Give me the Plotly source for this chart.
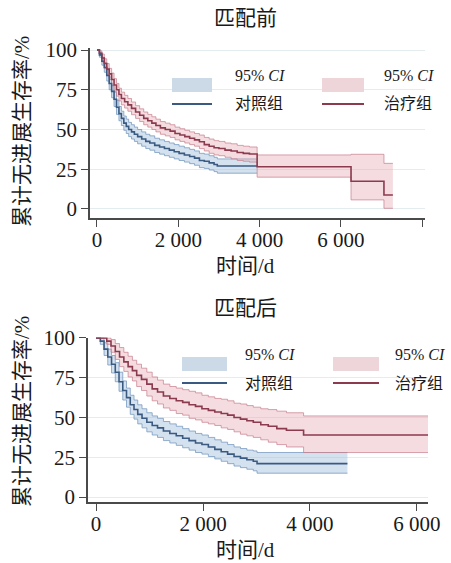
import plotly.graph_objects as go

# ---------------- data: before matching (匹配前) ----------------
pre_ctrl_t = [0, 60, 120, 180, 240, 300, 360, 420, 480, 540,
              600, 660, 720, 780, 850, 920, 1000, 1100, 1200, 1300,
              1420, 1540, 1660, 1780, 1900, 2020, 2150, 2280, 2400, 2520,
              2640, 2760, 2880, 2960, 3940]
pre_ctrl_s = [100, 97, 93, 89, 84, 79, 74, 69, 64, 60,
              57, 54, 52, 50, 48.5, 47, 45.5, 44, 42.5, 41.5,
              40, 39, 38, 37, 36, 35, 34, 33, 32, 30.5,
              30, 29, 28, 27, 27]
pre_ctrl_hi = [100, 98.5, 95.5, 92, 87.5, 83, 78, 73.5, 68.5, 64.5,
               61.5, 58.5, 56.5, 54.5, 53, 51.5, 50, 48.5, 47, 46,
               44.5, 43.5, 42.5, 41.5, 40.5, 39.5, 38.5, 37.5, 36.5, 35,
               34.5, 33.5, 32.5, 31.5, 31.5]
pre_ctrl_lo = [100, 95.5, 90.5, 86, 80.5, 75, 70, 64.5, 59.5, 55.5,
               52.5, 49.5, 47.5, 45.5, 44, 42.5, 41, 39.5, 38, 37,
               35.5, 34.5, 33.5, 32.5, 31.5, 30.5, 29.5, 28.5, 27.5, 26,
               25.5, 24.5, 23.5, 22.5, 22.5]

pre_trt_t = [0, 60, 120, 180, 240, 300, 360, 420, 480, 540,
             600, 680, 760, 850, 950, 1050, 1150, 1250, 1350, 1450,
             1560, 1680, 1800, 1920, 2040, 2160, 2280, 2400, 2520, 2640,
             2760, 2880, 3000, 3150, 3300, 3450, 3600, 3750, 3940, 6250,
             7060, 7280]
pre_trt_s = [100, 98, 95, 91.5, 88, 85, 81.5, 78, 75, 72,
             69.5, 67.5, 65.5, 63.3, 61, 59, 57, 55.5, 54, 52.5,
             51, 50, 49, 47.5, 46.5, 45.5, 44.5, 43.5, 42.3, 40.5,
             39.5, 38.5, 38, 37, 36.5, 35.5, 35, 34.6, 26.6, 17.4,
             8.8, 8.8]
pre_trt_hi = [100, 99.5, 97.5, 94.5, 91.5, 88.5, 85.5, 82, 79, 76,
              73.5, 71.5, 69.5, 67.3, 65, 63, 61, 59.5, 58, 56.5,
              55, 54, 53, 51.5, 50.5, 49.5, 48.5, 47.5, 46.5, 45,
              44, 43, 42.5, 41.5, 41, 40, 39.5, 39, 34, 34.4,
              28.7, 28.7]
pre_trt_lo = [100, 96.5, 92.5, 88.5, 84.5, 81.5, 77.5, 74, 71, 68,
              65.5, 63.5, 61.5, 59.3, 57, 55, 53, 51.5, 50, 48.5,
              47, 46, 45, 43.5, 42.5, 41.5, 40.5, 39.5, 38, 36.5,
              35, 34, 33.5, 32.5, 31.5, 30.5, 30, 29.5, 20, 5.7,
              0.4, 0.4]

# ---------------- data: after matching (匹配后) ----------------
post_ctrl_t = [0, 80, 150, 220, 290, 360, 430, 500, 570, 640,
               710, 780, 860, 950, 1050, 1150, 1260, 1380, 1500, 1620,
               1740, 1860, 1980, 2100, 2220, 2340, 2460, 2580, 2700, 2820,
               2940, 3010, 4700]
post_ctrl_s = [100, 98, 93, 88, 83.5, 78.5, 72.5, 67, 62.5, 58,
               55, 52, 49.5, 47, 45, 43.5, 41.5, 40, 38.5, 37,
               35.5, 34, 33, 31.5, 30, 28.5, 27, 25.5, 24.5, 23.5,
               22.5, 21, 21]
post_ctrl_hi = [100, 100, 97, 93, 89, 84.5, 78.5, 73, 68.5, 64,
                61, 58, 55.5, 53, 51, 49.5, 47.5, 46, 44.5, 43,
                41.5, 40, 39, 37.5, 36, 34.5, 33, 31.5, 30.5, 29.5,
                29, 28, 28]
post_ctrl_lo = [100, 96, 89, 83, 78, 72.5, 66.5, 61, 56.5, 52,
                49, 46, 43.5, 41, 39, 37.5, 35.5, 34, 32.5, 31,
                29.5, 28, 27, 25.5, 24, 22.5, 21, 19.5, 18.5, 17.5,
                16.5, 15, 15]

post_trt_t = [0, 200, 280, 360, 440, 520, 600, 680, 760, 850,
              950, 1050, 1150, 1260, 1380, 1500, 1620, 1740, 1860, 1980,
              2100, 2220, 2340, 2460, 2580, 2700, 2820, 2940, 3080, 3220,
              3380, 3560, 3880, 6210]
post_trt_s = [100, 98, 95, 91.5, 88, 85, 82, 79.5, 76.5, 74,
              71, 68, 66, 63.5, 62, 60.5, 59.5, 58, 57, 55.5,
              54.5, 53.5, 52.5, 51.5, 50, 49, 48, 47, 45.5, 44.5,
              43, 42, 39, 39]
post_trt_hi = [100, 100, 99, 96.5, 94, 91, 88.5, 86, 83.5, 81,
               78.5, 75.5, 73.5, 71, 69.5, 68.5, 67.5, 66.5, 65.5, 64,
               63, 62, 61.5, 60.5, 59, 58.5, 57.5, 56.5, 55.5, 55,
               54, 53, 51, 51]
post_trt_lo = [100, 96, 91, 86.5, 82, 79, 75.5, 73, 69.5, 67,
               63.5, 60.5, 58.5, 56, 54.5, 52.5, 51.5, 49.5, 48.5, 47,
               46, 45, 43.5, 42.5, 41, 39.5, 38.5, 37.5, 36, 34.5,
               33, 31.5, 28, 28]

x_tickvals_pre = [0, 2000, 4000, 6000, 8000]
x_ticktext_pre = ["0", "2 000", "4 000", "6 000", ""]
x_tickvals_post = [0, 2000, 4000, 6000]
x_ticktext_post = ["0", "2 000", "4 000", "6 000"]
y_tickvals = [0, 25, 50, 75, 100]

panel_titles = ["匹配前", "匹配后"]
x_title = "时间/d"
y_title = "累计无进展生存率/%"
ci_label = "95% <i>CI</i>"
group_labels = ["对照组", "治疗组"]

# ---------------- styles ----------------
W, H = 451, 563
BLUE_LINE = "#3b5a82"
RED_LINE = "#8c3a4d"
BLUE_FILL = "rgba(160,190,220,0.45)"
RED_FILL = "rgba(228,172,182,0.42)"
BLUE_EDGE = "rgba(115,150,190,0.75)"
RED_EDGE = "rgba(200,125,140,0.7)"
BLUE_SW = "#ccd9e7"
RED_SW = "#eed5d9"
SERIF = "Liberation Serif, Noto Sans CJK SC"
AX = "#4a4a4a"


def px(x):
    return x / W


def py(y):
    return 1 - y / H


fig = go.Figure()


def add_group(t, hi, lo, xa, ya, fill, edge):
    fig.add_trace(go.Scatter(x=t, y=hi, mode="lines", line=dict(color=edge, width=1, shape="hv"),
                             xaxis=xa, yaxis=ya, showlegend=False, hoverinfo="skip"))
    fig.add_trace(go.Scatter(x=t, y=lo, mode="lines", line=dict(color=edge, width=1, shape="hv"),
                             fill="tonexty", fillcolor=fill,
                             xaxis=xa, yaxis=ya, showlegend=False, hoverinfo="skip"))


def add_line(t, s, xa, ya, color):
    fig.add_trace(go.Scatter(x=t, y=s, mode="lines", line=dict(color=color, width=1.6, shape="hv"),
                             xaxis=xa, yaxis=ya, showlegend=False))


add_group(pre_ctrl_t, pre_ctrl_hi, pre_ctrl_lo, "x", "y", BLUE_FILL, BLUE_EDGE)
add_group(pre_trt_t, pre_trt_hi, pre_trt_lo, "x", "y", RED_FILL, RED_EDGE)
add_line(pre_ctrl_t, pre_ctrl_s, "x", "y", BLUE_LINE)
add_line(pre_trt_t, pre_trt_s, "x", "y", RED_LINE)

add_group(post_ctrl_t, post_ctrl_hi, post_ctrl_lo, "x2", "y2", BLUE_FILL, BLUE_EDGE)
add_group(post_trt_t, post_trt_hi, post_trt_lo, "x2", "y2", RED_FILL, RED_EDGE)
add_line(post_ctrl_t, post_ctrl_s, "x2", "y2", BLUE_LINE)
add_line(post_trt_t, post_trt_s, "x2", "y2", RED_LINE)

tickfont = dict(family="Liberation Serif", size=21, color="#1a1a1a")
common_x = dict(showline=True, linecolor=AX, linewidth=1.5, ticks="outside", ticklen=7,
                tickcolor=AX, tickwidth=1.3, showgrid=False, zeroline=False, tickfont=tickfont,
                automargin=False, ticklabelstandoff=-5)
common_y = dict(showline=True, linecolor=AX, linewidth=1.5, ticks="outside", ticklen=7,
                tickcolor=AX, tickwidth=1.3, showgrid=True, gridcolor="#e4ecef", gridwidth=1,
                zeroline=False, tickfont=tickfont, tickvals=y_tickvals, automargin=False)

fig.update_layout(
    width=W, height=H,
    margin=dict(l=0, r=0, t=0, b=0, autoexpand=False),
    paper_bgcolor="white", plot_bgcolor="white",
    xaxis=dict(domain=[px(90), px(425)], anchor="y", range=[-172, 8070],
               tickvals=x_tickvals_pre, ticktext=x_ticktext_pre, **common_x),
    yaxis=dict(domain=[py(218), py(48)], anchor="x", range=[-5.7, 101.3], **common_y),
    xaxis2=dict(domain=[px(88), px(428)], anchor="y2", range=[-150, 6206],
                tickvals=x_tickvals_post, ticktext=x_ticktext_post, **common_x),
    yaxis2=dict(domain=[py(502), py(337.5)], anchor="x2", range=[-3.1, 100.3], **common_y),
)

ann = []
shapes = []
titlefont = dict(family=SERIF, size=21, color="#1a1a1a")
legfont = dict(family=SERIF, size=16, color="#1a1a1a")

# panel titles, axis titles
for title, ty, xty, yty in [(panel_titles[0], 18, 266, 132), (panel_titles[1], 308, 550, 412)]:
    ann.append(dict(text=title, x=px(246), y=py(ty), xref="paper", yref="paper",
                    showarrow=False, font=titlefont, xanchor="center", yanchor="middle"))
    ann.append(dict(text=x_title, x=px(246), y=py(xty), xref="paper", yref="paper",
                    showarrow=False, font=titlefont, xanchor="center", yanchor="middle"))
    ann.append(dict(text=y_title, x=px(22), y=py(yty), xref="paper", yref="paper", textangle=-90,
                    showarrow=False, font=titlefont, xanchor="center", yanchor="middle"))

# legends
legends = [
    (172, 212, 78, 92, 104, 233, 76, 104, BLUE_SW, BLUE_LINE, group_labels[0]),
    (322, 364, 78, 92, 104, 382, 76, 104, RED_SW, RED_LINE, group_labels[1]),
    (182, 227, 357, 371, 383, 243, 355, 383, BLUE_SW, BLUE_LINE, group_labels[0]),
    (333, 379, 357, 371, 383, 393, 355, 383, RED_SW, RED_LINE, group_labels[1]),
]
for x0, x1, y0, y1, ly, tx, cy, lab_y, fc, lc, lab in legends:
    shapes.append(dict(type="rect", xref="paper", yref="paper", x0=px(x0), x1=px(x1),
                       y0=py(y1), y1=py(y0), fillcolor=fc, line=dict(width=0)))
    shapes.append(dict(type="line", xref="paper", yref="paper", x0=px(x0), x1=px(x1),
                       y0=py(ly), y1=py(ly), line=dict(color=lc, width=2)))
    ann.append(dict(text=ci_label, x=px(tx), y=py(cy), xref="paper", yref="paper",
                    showarrow=False, font=legfont, xanchor="left", yanchor="middle"))
    ann.append(dict(text=lab, x=px(tx), y=py(lab_y), xref="paper", yref="paper",
                    showarrow=False, font=legfont, xanchor="left", yanchor="middle"))

fig.update_layout(annotations=ann, shapes=shapes)
fig.write_html("out.html", config={"displayModeBar": False},
               post_script="document.body.style.margin='0';document.body.style.overflow='hidden';")
